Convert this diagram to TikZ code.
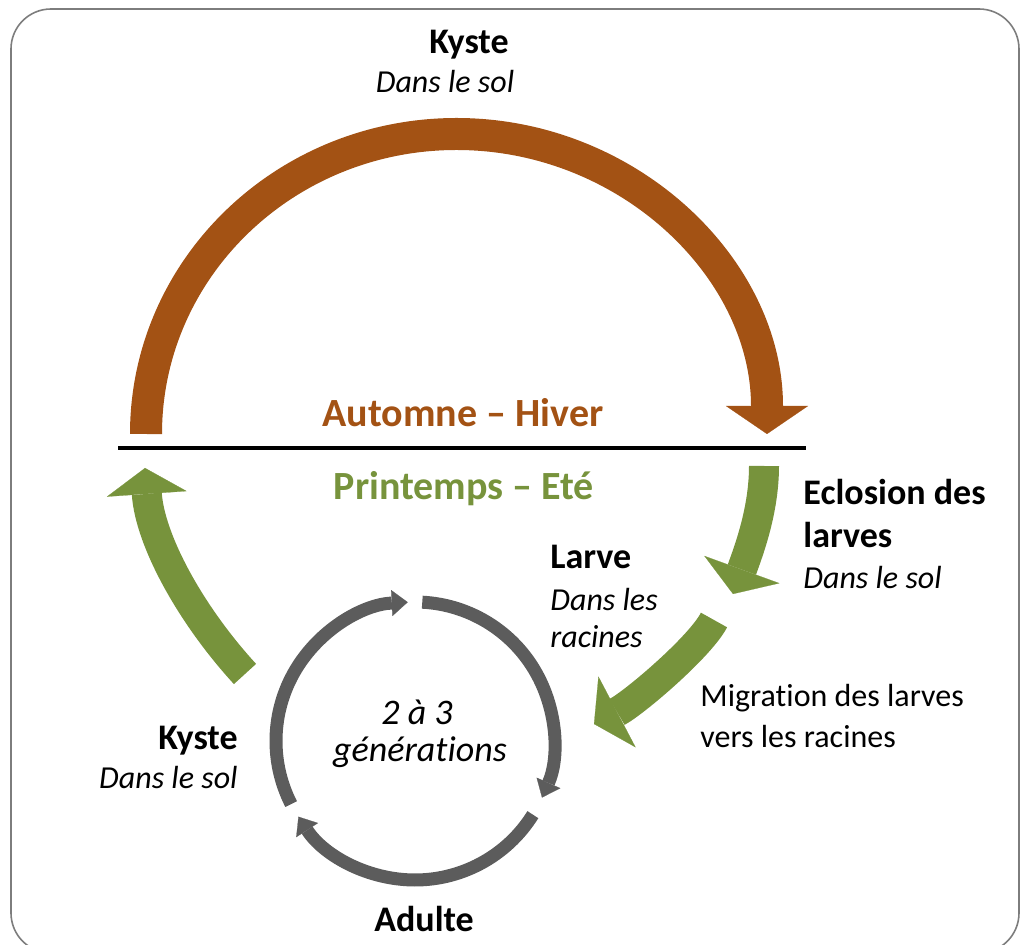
\documentclass[tikz,border=0pt]{standalone}
\usepackage{fontspec}
\setmainfont{Carlito}[Ligatures={TeX,NoCommon}]
\usetikzlibrary{arrows.meta}

\definecolor{autumnbrown}{RGB}{163,82,20}
\definecolor{seasongreen}{RGB}{119,147,60}
\definecolor{cyclegray}{RGB}{92,92,92}
\definecolor{framegray}{RGB}{125,125,125}

\tikzset{
  stagelbl/.style={inner sep=0pt, font=\fontsize{18}{22}\selectfont\bfseries},
  placelbl/.style={inner sep=0pt, font=\fontsize{16}{19}\selectfont\itshape},
  notelbl/.style={inner sep=0pt, font=\fontsize{16}{19}\selectfont},
  seasonlbl/.style={inner sep=0pt, font=\fontsize{20}{24}\selectfont\bfseries},
  brownarrow/.style={draw=autumnbrown, line width=16pt, -{Triangle[width=41pt,length=14pt,line width=0.1pt]}},
  greenarrow/.style={draw=seasongreen, line width=15pt, -{Triangle[width=40pt,length=13pt,line width=0.1pt]}},
  grayarrow/.style={draw=cyclegray, line width=6.5pt, -{Triangle[width=13pt,length=8pt,line width=0.1pt]}}
}

\begin{document}
\begin{tikzpicture}[x=0.5pt,y=-0.5pt]
	\useasboundingbox (0,0) rectangle (1023,945);
	\clip (0,0) rectangle (1023,945);
	\draw[framegray, line width=0.8pt, rounded corners=20pt] (11,9) rectangle (1019,953);

	\begin{scope}
		% automne - hiver
		\coordinate (hivStart) at (146,434);
		\draw[brownarrow] (hivStart) arc[start angle=180, end angle=360, x radius=310.5, y radius=300];
		\coordinate (sepL) at (118,448);
		\coordinate (sepR) at (806,448);
		\draw[line width=2pt] (sepL) -- (sepR);
		\node[seasonlbl, text=autumnbrown, anchor=base] (hiver) at (463,427) {Automne – Hiver};
		\node[seasonlbl, text=seasongreen, anchor=base] (ete) at (464,500) {Printemps – Eté};
		\node[stagelbl, anchor=base] (kysteHaut) at (469,54) {Kyste};
		\node[placelbl, anchor=base] (solHaut) at (445,93) {Dans le sol};
	\end{scope}

	\begin{scope}
		% printemps - ete
		\coordinate (eclA) at (764,466);
		\coordinate (eclB) at (733,594);
		\draw[greenarrow] (eclA) .. controls (764,510) and (749,550) .. (eclB);
		\coordinate (migA) at (714,620);
		\coordinate (migB) at (594,724);
		\draw[greenarrow] (migA) .. controls (700,647) and (634,703) .. (migB);
		\coordinate (kysA) at (245,674);
		\coordinate (kysB) at (145,468);
		\draw[greenarrow] (kysA) .. controls (190,614) and (150,540) .. (kysB);

		\node[stagelbl, anchor=base west] (eclosion) at (803,505) {Eclosion des};
		\node[stagelbl, anchor=base west] (eclosion2) at (803,548) {larves};
		\node[placelbl, anchor=base west] (solEcl) at (803,589) {Dans le sol};
		\node[stagelbl, anchor=base west] (larve) at (550,569) {Larve};
		\node[placelbl, anchor=base west] (larveLieu) at (550,611) {Dans les};
		\node[placelbl, anchor=base west] (larveLieu2) at (550,648) {racines};
		\node[notelbl, anchor=base west] (migration) at (700,707) {Migration des larves};
		\node[notelbl, anchor=base west] (migration2) at (700,748) {vers les racines};
		\node[stagelbl, anchor=base east] (kysteBas) at (238,750) {Kyste};
		\node[placelbl, anchor=base east] (solBas) at (238,789) {Dans le sol};
		\node[stagelbl, anchor=base] (adulte) at (424,931) {Adulte};
	\end{scope}

	\begin{scope}[shift={(415,741)}]
		% generations
		\coordinate (genCtr) at (0,0);
		\draw[grayarrow] (153:139) arc[start angle=153, end angle=267, radius=139];
		\draw[grayarrow] (273:139) arc[start angle=273, end angle=384, radius=139];
		\draw[grayarrow] (32:139) arc[start angle=32, end angle=147, radius=139];
		\node[placelbl, font=\fontsize{18}{22}\selectfont\itshape, anchor=base] (gen1) at (2,-16) {2 à 3};
		\node[placelbl, font=\fontsize{18}{22}\selectfont\itshape, anchor=base] (gen2) at (5,21) {générations};
	\end{scope}
\end{tikzpicture}
\end{document}
